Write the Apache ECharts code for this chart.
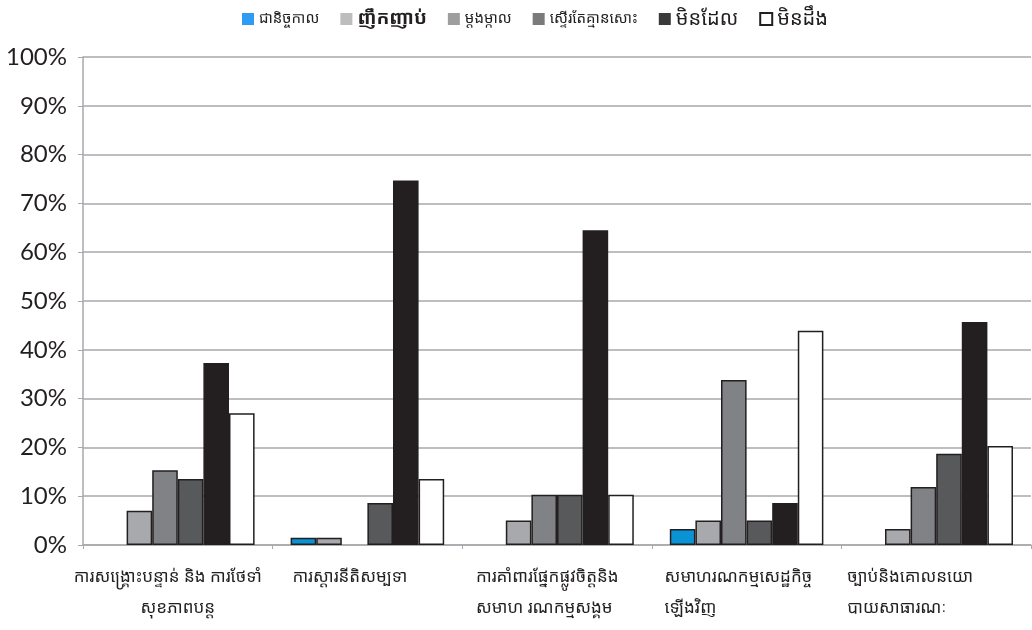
<!DOCTYPE html>
<html><head><meta charset="utf-8">
<script src="https://cdn.jsdelivr.net/npm/echarts@6/dist/echarts.min.js"></script>
<style>html,body{margin:0;padding:0;background:#fff}#c{width:1032px;height:630px}</style>
</head><body><div id="c"></div>
<script>
const categories = [
  'ការសង្គ្រោះបន្ទាន់ និង ការថែទាំ\nសុខភាពបន្ត',
  'ការស្តារនីតិសម្បទា',
  'ការគាំពារផ្នែកផ្លូវចិត្តនិង\nសមាហ រណកម្មសង្គម',
  'សមាហរណកម្មសេដ្ឋកិច្ច\nឡើងវិញ',
  'ច្បាប់និងគោលនយោ\nបាយសាធារណៈ'
];
const seriesNames = ['ជានិច្ចកាល','ញឹកញាប់','ម្តងម្កាល','ស្ទើរតែគ្មានសោះ','មិនដែល','មិនដឹង'];
const always    = [null, 1.5, null, 3.3, null];
const often     = [7.0, 1.5, 5.0, 5.0, 3.3];
const sometimes = [15.3, null, 10.3, 33.8, 11.9];
const rarely    = [13.5, 8.6, 10.3, 5.0, 18.7];
const never     = [37.3, 74.7, 64.5, 8.6, 45.7];
const dontKnow  = [27.0, 13.5, 10.3, 43.9, 20.3];
const yTicks = ['0%','10%','20%','30%','40%','50%','60%','70%','80%','90%','100%'];

const values = [always, often, sometimes, rarely, never, dontKnow];
const colors = ['#0a93d4','#a7a9ac','#808285','#58595b','#231f20','#ffffff'];
const legendColors = ['#2f9bf2','#bdbdbd','#9e9e9e','#7a7a7a','#3a3a3a','#ffffff'];
const khmer = "'Noto Sans Khmer','Khmer OS','Noto Sans',sans-serif";
const labelWidths = [208, 150, 162, 164, 178];

const chart = echarts.init(document.getElementById('c'));
const rich = {};
labelWidths.forEach((w,i)=>{ rich['c'+i] = {width:w, align:'left', fontSize:17, lineHeight:31, color:'#231f20', fontFamily:khmer}; });
rich.c0b = {width:208, align:'center', fontSize:17, lineHeight:31, color:'#231f20', fontFamily:khmer};

chart.setOption({
  animation:false,
  legend:{
    top:4, left:237, itemWidth:12, itemHeight:12, itemGap:21, icon:'rect',
    textStyle:{fontFamily:khmer, fontSize:15, color:'#231f20'},
    data: seriesNames.map((n,i)=>({
      name:n,
      itemStyle: i===5 ? {color:'#fff', borderColor:'#231f20', borderWidth:2} : {color:legendColors[i], borderWidth:0},
      textStyle: i===1 ? {fontSize:19, fontWeight:'bold'} : (i>=4 ? {fontSize:20} : {fontSize:15})
    }))
  },
  grid:{left:83, right:1, top:57, bottom:85},
  xAxis:{
    type:'category', data:categories,
    axisLine:{lineStyle:{color:'#a7a9ac', width:1.5}},
    axisTick:{show:true, length:4, lineStyle:{color:'#a7a9ac'}},
    axisLabel:{
      margin:17, interval:0,
      formatter:(v, idx)=>{
        const lines = v.split('\n');
        return lines.map((l,j)=> (idx===0 && j===1) ? '{c0b|'+l+'}' : '{c'+idx+'|'+l+'}').join('\n');
      },
      rich:rich
    }
  },
  yAxis:{
    type:'value', min:0, max:100, interval:10,
    axisLine:{show:true, lineStyle:{color:'#a7a9ac', width:1.5}},
    axisTick:{show:true, length:5, lineStyle:{color:'#a7a9ac'}},
    axisLabel:{formatter:(v)=>yTicks[Math.round(v/10)], fontFamily:"Lato, 'Open Sans', sans-serif", fontSize:24, color:'#231f20', margin:16},
    splitLine:{lineStyle:{color:'#a7a9ac', width:1.5}}
  },
  series: seriesNames.map((n,i)=>({
    name:n, type:'bar', data:values[i], barGap:'0%', barCategoryGap:'19%',
    itemStyle:{color:colors[i], borderColor:'#231f20', borderWidth:1.5}
  }))
});
</script></body></html>
